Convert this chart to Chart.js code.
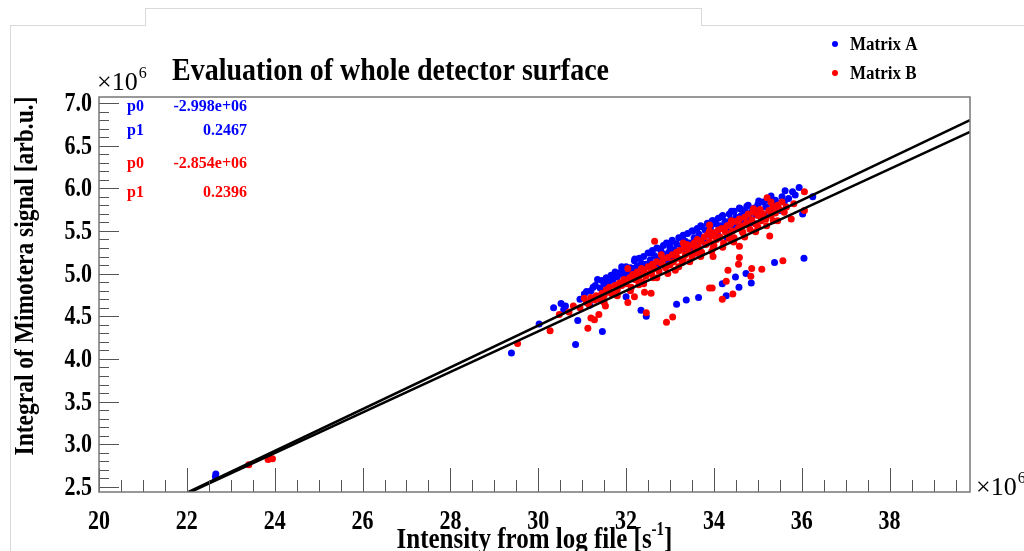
<!DOCTYPE html>
<html>
<head>
<meta charset="utf-8">
<script src="https://cdn.jsdelivr.net/npm/chart.js@4.4.1/dist/chart.umd.min.js"></script>
<style>
  html, body { margin:0; padding:0; background:#ffffff; width:1024px; height:551px; overflow:hidden; }
  #wrap { position:relative; width:1024px; height:551px; }
  .chrome { position:absolute; border-color:#d9d9d9; border-style:solid; border-width:0; }
  canvas { position:absolute; left:0; top:0; }
</style>
</head>
<body>
<div id="wrap">
  <div class="chrome" style="left:10px; top:25px; width:135px; height:540px; border-top-width:1px; border-left-width:1px;"></div>
  <div class="chrome" style="left:145px; top:8px; width:555px; height:17px; border-top-width:1px; border-left-width:1px; border-right-width:1px;"></div>
  <div class="chrome" style="left:701px; top:25px; width:330px; height:1px; border-top-width:1px;"></div>
  <canvas id="c" width="1024" height="551"></canvas>
</div>
<script>
// ---- data (values in units of 1e6) ----
const xTicks = [20, 22, 24, 26, 28, 30, 32, 34, 36, 38];
const yTicks = [2.5, 3.0, 3.5, 4.0, 4.5, 5.0, 5.5, 6.0, 6.5, 7.0];

// Matrix A (blue)
const matrixA_x = [
  30.35,30.52,30.58,30.62,30.95,31.05,31.1,31.17,31.2,31.25,31.3,
  31.41,31.45,31.5,31.55,31.6,31.66,31.7,31.75,31.8,31.85,
  31.9,31.95,32.0,32.05,32.1,32.15,32.19,32.25,32.3,32.35,
  32.4,32.45,32.5,32.55,32.6,32.62,32.65,32.7,32.75,32.8,32.85,32.9,
  32.92,32.97,33.0,33.05,33.1,33.12,33.15,33.2,33.25,33.3,33.35,33.38,
  33.4,33.45,33.5,33.55,33.6,33.62,33.66,33.7,33.75,33.8,33.85,33.88,
  33.92,33.96,34.0,34.05,34.1,34.12,34.15,34.2,34.25,34.3,34.35,34.38,
  34.42,34.46,34.5,34.55,34.6,34.62,34.66,34.7,34.75,34.8,34.85,34.88,
  34.92,34.96,35.0,35.05,35.1,35.12,35.18,35.22,35.28,35.32,
  35.4,35.45,35.55,35.6,35.7,35.79,35.85,35.94,36.02,36.25,
  31.35,31.9,32.2,32.55,32.78,33.0,33.28,33.52,33.72,33.98,34.18,34.4,34.58,34.78,35.02,35.3,35.62,
  32.3,32.7,33.1,33.45,33.8,34.1,34.45,34.7,35.15,35.5,32.95,33.6,34.3,
  // below the band / isolated
  22.65,22.66,29.39,30.02,30.85,30.9,31.46,32.0,32.34,32.46,33.15,33.37,33.65,
  34.19,34.28,34.49,34.57,34.73,34.85,35.38,36.05
];
const matrixA_y = [
  4.60,4.65,4.58,4.62,4.70,4.76,4.79,4.63,4.80,4.84,4.86,
  4.83,4.92,4.88,4.95,4.90,4.98,4.93,5.02,4.96,5.00,
  5.04,4.98,5.08,5.01,5.07,5.06,5.15,5.09,5.18,5.12,
  5.20,5.11,5.24,5.16,5.27,5.08,5.21,5.30,5.18,5.26,5.33,5.22,
  5.36,5.25,5.31,5.39,5.28,5.20,5.35,5.42,5.30,5.45,5.38,5.26,
  5.47,5.36,5.50,5.42,5.32,5.53,5.46,5.56,5.40,5.51,5.59,5.45,
  5.54,5.62,5.48,5.58,5.65,5.42,5.56,5.68,5.61,5.50,5.70,5.63,
  5.58,5.73,5.66,5.55,5.76,5.68,5.62,5.74,5.79,5.66,5.72,5.60,
  5.77,5.69,5.81,5.74,5.66,5.84,5.78,5.86,5.74,5.82,
  5.86,5.79,5.90,5.84,5.88,5.96,5.92,6.01,5.70,5.90,
  4.93,5.08,5.17,5.24,5.29,5.36,5.43,5.50,5.55,5.62,5.67,5.73,5.77,5.80,5.85,5.91,5.97,
  5.00,5.10,5.18,5.28,5.36,5.44,5.52,5.58,5.68,5.74,5.15,5.24,5.42,
  2.62,2.65,4.07,4.41,4.17,4.45,4.32,4.73,4.57,4.50,4.64,4.69,4.72,
  4.88,4.74,4.96,4.84,5.00,4.89,5.13,5.18
];

// Matrix B (red)
const matrixB_x = [
  30.48,30.7,30.8,30.95,31.05,31.1,31.15,31.2,31.28,31.32,
  31.4,31.45,31.5,31.55,31.6,31.62,31.68,31.75,31.8,31.85,
  31.9,31.95,32.0,32.04,32.08,32.12,32.15,32.2,32.25,32.3,32.35,32.38,
  32.4,32.45,32.5,32.55,32.6,32.62,32.65,32.7,32.75,32.8,32.85,32.9,
  32.95,33.0,33.05,33.08,33.12,33.15,33.18,33.22,33.28,33.32,33.35,33.38,
  33.42,33.45,33.5,33.55,33.58,33.62,33.65,33.7,33.72,33.78,33.82,33.86,
  33.9,33.94,33.98,34.02,34.06,34.1,34.14,34.18,34.22,34.26,34.3,34.34,
  34.38,34.42,34.46,34.5,34.55,34.58,34.62,34.66,34.7,34.74,34.78,34.82,
  34.86,34.9,34.95,35.0,35.05,35.08,35.12,35.18,35.21,35.25,35.3,35.35,
  35.4,35.45,35.5,35.55,35.6,35.65,35.76,35.82,36.06,36.06,
  31.5,31.8,32.1,32.4,32.7,32.95,33.2,33.45,33.7,33.95,34.2,34.45,34.7,34.95,35.2,35.45,
  32.25,32.58,32.88,33.3,33.6,34.0,34.35,34.65,35.0,35.35,
  32.8,33.3,33.9,34.4,34.9,35.3,
  // below the band / isolated
  23.41,23.85,23.88,23.95,29.53,30.27,31.13,31.2,31.28,31.38,31.53,32.04,32.19,32.29,
  32.42,32.46,32.57,32.65,32.92,33.06,33.9,33.9,33.96,33.98,34.19,34.28,34.32,34.43,
  34.56,34.58,34.58,34.84,34.86,35.09,35.27,35.57
];
const matrixB_y = [
  4.52,4.55,4.62,4.60,4.71,4.66,4.64,4.72,4.69,4.74,
  4.70,4.77,4.74,4.81,4.78,4.84,4.76,4.86,4.81,4.89,
  4.86,4.93,4.88,5.06,4.95,4.84,4.99,4.93,5.02,4.97,5.06,4.90,
  5.03,4.97,5.08,5.01,5.11,4.95,5.06,5.14,5.03,5.12,5.17,5.07,
  5.19,5.10,5.22,5.14,5.04,5.25,5.18,5.27,5.13,5.30,5.22,5.34,
  5.26,5.33,5.21,5.36,5.29,5.40,5.31,5.38,5.25,5.43,5.34,5.46,
  5.37,5.44,5.30,5.48,5.40,5.51,5.43,5.53,5.36,5.49,5.56,5.45,
  5.58,5.50,5.42,5.61,5.53,5.64,5.56,5.48,5.66,5.59,5.70,5.52,
  5.63,5.72,5.58,5.68,5.75,5.62,5.70,5.64,5.89,5.74,5.68,5.78,
  5.71,5.80,5.75,5.84,5.72,5.78,5.64,5.82,5.74,5.96,
  4.66,4.74,4.80,4.88,4.95,5.00,5.08,5.14,5.20,5.26,5.31,5.37,5.43,5.49,5.56,5.62,
  4.94,5.00,5.09,5.17,5.24,5.33,5.41,5.49,5.55,5.62,
  5.22,5.36,5.50,5.62,5.76,5.84,
  2.76,2.82,2.84,2.83,4.18,4.33,4.36,4.48,4.46,4.52,4.62,4.66,4.73,4.87,
  4.78,4.54,4.77,5.38,4.43,4.49,5.57,4.83,4.83,5.20,4.70,4.91,5.04,4.76,
  5.11,5.19,5.32,4.97,5.06,5.05,5.44,5.15
];

// fit lines (end points inside the frame)
const fitA_x = [22.04, 39.83];
const fitA_y = [2.44, 6.80];
const fitB_x = [22.0, 39.83];
const fitB_y = [2.42, 6.66];

const fitText = [
  { name: 'p0', value: '-2.998e+06', color: '#0000ff' },
  { name: 'p1', value: '0.2467', color: '#0000ff' },
  { name: 'p0', value: '-2.854e+06', color: '#ff0000' },
  { name: 'p1', value: '0.2396', color: '#ff0000' }
];

const pts = (xs, ys) => xs.map((x, i) => ({ x: x, y: ys[i] }));

const SERIF = "'Liberation Serif', 'DejaVu Serif', serif";

function stretchText(ctx, text, x, y, font, sy, align, baseline) {
  ctx.save();
  ctx.translate(x, y);
  ctx.scale(1, sy);
  ctx.font = font;
  ctx.textAlign = align;
  ctx.textBaseline = baseline;
  ctx.fillText(text, 0, 0);
  ctx.restore();
}

function supText(ctx, base, sup, x, y, size, supSize, weight) {
  ctx.font = (weight || '') + ' ' + size + 'px ' + SERIF;
  ctx.textAlign = 'left';
  ctx.textBaseline = 'alphabetic';
  ctx.fillText(base, x, y);
  const w = ctx.measureText(base).width;
  ctx.font = (weight || '') + ' ' + supSize + 'px ' + SERIF;
  ctx.fillText(sup, x + w + 1, y - size * 0.45);
}

const rootStyle = {
  id: 'rootStyle',
  afterDatasetsDraw(chart) {
    const ctx = chart.ctx;
    const a = chart.chartArea;
    const xs = chart.scales.x, ys = chart.scales.y;
    ctx.save();
    // ticks (inside the frame, ROOT style)
    ctx.strokeStyle = '#555555';
    ctx.lineWidth = 1;
    ctx.beginPath();
    for (let v = 2.5; v <= 7.0001; v += 0.1) {
      const py = Math.round(ys.getPixelForValue(v)) + 0.5;
      const major = Math.abs(v * 2 - Math.round(v * 2)) < 1e-6;
      ctx.moveTo(a.left, py);
      ctx.lineTo(a.left + (major ? 20 : 10), py);
    }
    for (let v = 20; v <= 39.8; v += 0.5) {
      const px = Math.round(xs.getPixelForValue(v)) + 0.5;
      const major = Math.abs(v / 2 - Math.round(v / 2)) < 1e-6;
      ctx.moveTo(px, a.bottom);
      ctx.lineTo(px, a.bottom - (major ? 24 : 12));
    }
    ctx.stroke();
    // frame
    ctx.strokeStyle = '#777777';
    ctx.lineWidth = 1.5;
    ctx.strokeRect(a.left, a.top, a.right - a.left, a.bottom - a.top);
    ctx.restore();
  },
  afterDraw(chart) {
    const ctx = chart.ctx;
    const a = chart.chartArea;
    const xs = chart.scales.x, ys = chart.scales.y;
    ctx.save();
    ctx.fillStyle = '#000';

    // tick labels, placed through the scales
    const tf = 'bold 22px ' + SERIF;
    ys.ticks.forEach(t => {
      stretchText(ctx, t.value.toFixed(1), 92, ys.getPixelForValue(t.value) + 1, tf, 1.22, 'right', 'middle');
    });
    xs.ticks.forEach(t => {
      stretchText(ctx, String(t.value), xs.getPixelForValue(t.value), 522, tf, 1.22, 'center', 'middle');
    });

    // title
    stretchText(ctx, 'Evaluation of whole detector surface', 172, 80, 'bold 28px ' + SERIF, 1.1, 'left', 'alphabetic');

    // x10^6 labels
    supText(ctx, '\u00d710', '6', 97, 90, 26, 16, '');
    supText(ctx, '\u00d710', '6', 976, 495, 26, 16, '');

    // x axis title
    ctx.save();
    ctx.translate(0, 548);
    ctx.scale(1, 1.2);
    const f1 = 'bold 25px ' + SERIF, f2 = 'bold 15px ' + SERIF;
    const xt1 = 'Intensity from log file [s', xt2 = '-1', xt3 = ']';
    ctx.font = f1;
    const w1 = ctx.measureText(xt1).width, w3 = ctx.measureText(xt3).width;
    ctx.font = f2;
    const w2 = ctx.measureText(xt2).width;
    let sx = (a.left + a.right) / 2 - (w1 + w2 + w3) / 2;
    ctx.textAlign = 'left';
    ctx.textBaseline = 'alphabetic';
    ctx.font = f1; ctx.fillText(xt1, sx, 0);
    ctx.font = f2; ctx.fillText(xt2, sx + w1, -11);
    ctx.font = f1; ctx.fillText(xt3, sx + w1 + w2, 0);
    ctx.restore();

    // y axis title
    ctx.save();
    ctx.translate(33, 276);
    ctx.rotate(-Math.PI / 2);
    ctx.scale(1, 1.2);
    ctx.font = 'bold 23.5px ' + SERIF;
    ctx.textAlign = 'center';
    ctx.textBaseline = 'alphabetic';
    ctx.fillText('Integral of Mimotera signal [arb.u.]', 0, 0);
    ctx.restore();

    // legend
    const ds = chart.data.datasets;
    const legY = [44, 73];
    [0, 1].forEach((i) => {
      ctx.fillStyle = ds[i].backgroundColor;
      ctx.beginPath();
      ctx.arc(835, legY[i], 3, 0, Math.PI * 2);
      ctx.fill();
      ctx.fillStyle = '#000';
      stretchText(ctx, ds[i].label, 850, legY[i] + 1, 'bold 17px ' + SERIF, 1.1, 'left', 'middle');
    });

    // fit parameters
    const fy = [106, 130, 163, 192];
    fitText.forEach((f, i) => {
      ctx.fillStyle = f.color;
      stretchText(ctx, f.name, 127, fy[i], 'bold 16px ' + SERIF, 1.1, 'left', 'middle');
      stretchText(ctx, f.value, 247, fy[i], 'bold 16px ' + SERIF, 1.1, 'right', 'middle');
    });
    ctx.restore();
  }
};

new Chart(document.getElementById('c'), {
  type: 'scatter',
  data: {
    datasets: [
      { label: 'Matrix A', data: pts(matrixA_x, matrixA_y), backgroundColor: '#0000ff', borderColor: '#0000ff', pointRadius: 3.5, pointBorderWidth: 0, order: 4 },
      { label: 'Matrix B', data: pts(matrixB_x, matrixB_y), backgroundColor: '#ff0000', borderColor: '#ff0000', pointRadius: 3.5, pointBorderWidth: 0, order: 3 },
      { type: 'line', label: 'fit A', data: pts(fitA_x, fitA_y), borderColor: '#000000', borderWidth: 2.5, pointRadius: 0, fill: false, order: 2 },
      { type: 'line', label: 'fit B', data: pts(fitB_x, fitB_y), borderColor: '#000000', borderWidth: 2.5, pointRadius: 0, fill: false, order: 1 }
    ]
  },
  options: {
    responsive: false,
    animation: false,
    devicePixelRatio: 1,
    layout: { padding: { left: 0, top: 97, right: 54, bottom: 0 } },
    plugins: { legend: { display: false }, tooltip: { enabled: false }, title: { display: false } },
    scales: {
      x: {
        type: 'linear', min: 20, max: 39.83,
        afterBuildTicks: (s) => { s.ticks = xTicks.map(v => ({ value: v })); },
        afterFit: (s) => { s.height = 59; },
        grid: { display: false, drawTicks: false },
        border: { display: false },
        ticks: { display: false }
      },
      y: {
        type: 'linear', min: 2.44, max: 7.07,
        afterBuildTicks: (s) => { s.ticks = yTicks.map(v => ({ value: v })); },
        afterFit: (s) => { s.width = 99; },
        grid: { display: false, drawTicks: false },
        border: { display: false },
        ticks: { display: false }
      }
    }
  },
  plugins: [rootStyle]
});
</script>
</body>
</html>
